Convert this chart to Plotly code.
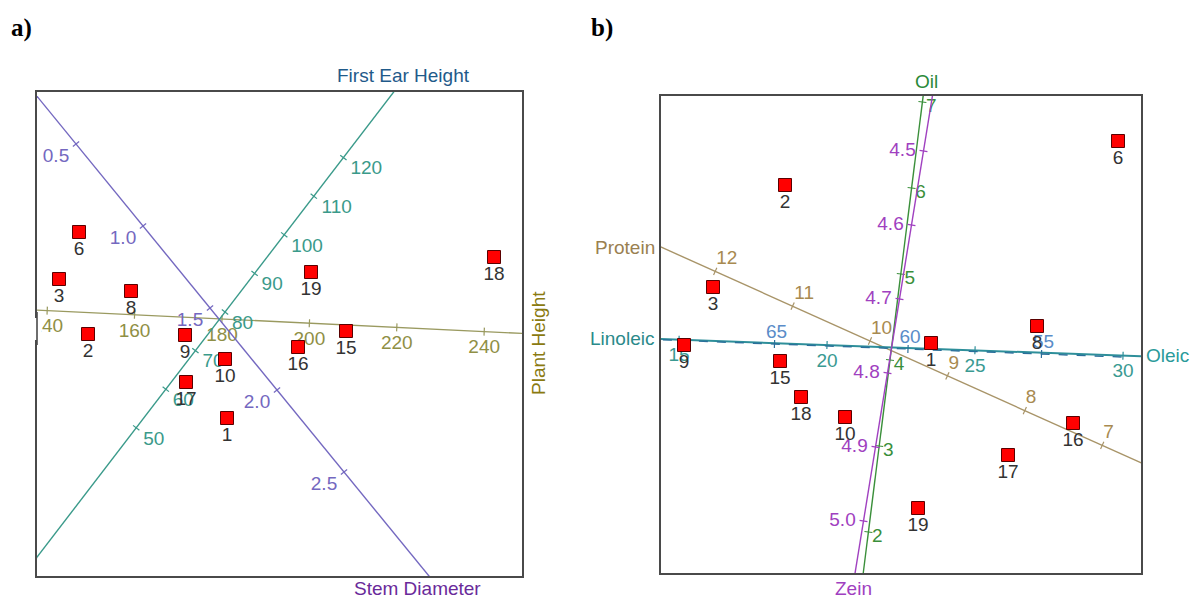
import numpy as np
import plotly.graph_objects as go

W, H = 1194, 599
FONT = "Arial, Liberation Sans, sans-serif"

# ---------------- panel a: agronomic traits ----------------
a_ids = ["1", "2", "3", "6", "8", "9", "10", "15", "16", "17", "18", "19"]
a_x = [1.90, 0.51, 0.22, 0.42, 0.94, 1.48, 1.88, 3.09, 2.61, 1.49, 4.57, 2.74]
a_y = [1.58, 2.42, 2.97, 3.44, 2.85, 2.41, 2.17, 2.45, 2.29, 1.94, 3.19, 3.04]

plant_ticks = [140, 160, 180, 200, 220, 240]
stem_ticks = [0.5, 1.0, 1.5, 2.0, 2.5]
stem_labels = ["0.5", "1.0", "1.5", "2.0", "2.5"]
ear_ticks = [50, 60, 70, 80, 90, 100, 110, 120]

# ---------------- panel b: grain quality ----------------
b_ids = ["1", "2", "3", "6", "8", "9", "10", "15", "16", "17", "18", "19"]
b_x = [2.70, 1.24, 0.52, 4.57, 3.76, 0.23, 1.84, 1.19, 4.12, 3.47, 1.40, 2.57]
b_y = [2.30, 3.88, 2.86, 4.32, 2.47, 2.28, 1.56, 2.12, 1.50, 1.18, 1.76, 0.65]

oleic_ticks = [15, 20, 25, 30]
linoleic_ticks = [55, 60, 65, 70]
protein_ticks = [7, 8, 9, 10, 11, 12]
oil_ticks = [2, 3, 4, 5, 6, 7]
zein_ticks = [4.5, 4.6, 4.7, 4.8, 4.9, 5.0]
zein_labels = ["4.5", "4.6", "4.7", "4.8", "4.9", "5.0"]

# biplot axis calibrations: value at anchor, anchor point, shift per unit of the variable
CAL = {
    "plant":    dict(v0=180, p0=(1.85, 2.57), step=(0.0437, -0.0021), span=(125, 260)),
    "stem":     dict(v0=1.5, p0=(1.73, 2.68), step=(1.34, -1.64), span=(0.0, 3.4)),
    "ear":      dict(v0=80, p0=(1.88, 2.64), step=(0.0296, 0.0386), span=(10, 145)),
    "oleic":    dict(v0=20, p0=(1.66, 2.28), step=(0.296, -0.0107), span=(13, 32)),
    "linoleic": dict(v0=60, p0=(2.47, 2.24), step=(-0.267, 0.0100), span=(52, 74)),
    "protein":  dict(v0=10, p0=(2.09, 2.32), step=(-0.774, 0.348), span=(6, 13.5)),
    "oil":      dict(v0=4, p0=(2.29, 2.13), step=(0.108, 0.86), span=(1.2, 7.5)),
    "zein":     dict(v0=4.7, p0=(2.385, 2.74), step=(-1.20, -7.40), span=(4.35, 5.15)),
}

TICK_SIZE = 19


def place(key, values):
    c = CAL[key]
    v = np.asarray(values, float) - c["v0"]
    return c["p0"][0] + v * c["step"][0], c["p0"][1] + v * c["step"][1]


def text_width(s, size=TICK_SIZE):
    return sum(0.28 if ch == "." else 0.556 for ch in s) * size / 100.0


fig = go.Figure()


def add_axis(key, ticks, labels, color, xa, ya, offset, dash=None, anchor_left=False,
             lcolor=None, width=1.4):
    c = CAL[key]
    lx, ly = place(key, c["span"])
    fig.add_trace(go.Scatter(x=lx, y=ly, mode="lines", xaxis=xa, yaxis=ya,
                             line=dict(color=lcolor or color, width=width, dash=dash),
                             hoverinfo="skip", showlegend=False))
    tx, ty = place(key, ticks)
    d = np.array(c["step"], float)
    d = d / np.hypot(*d)
    nx, ny = -d[1] * 0.04, d[0] * 0.04
    sx, sy = [], []
    for x0, y0 in zip(tx, ty):
        sx += [x0 - nx, x0 + nx, None]
        sy += [y0 - ny, y0 + ny, None]
    fig.add_trace(go.Scatter(x=sx, y=sy, mode="lines", xaxis=xa, yaxis=ya,
                             line=dict(color=lcolor or color, width=1.2),
                             hoverinfo="skip", showlegend=False))
    ox, oy = offset
    cx = [x0 + ox + (text_width(s) / 2 if anchor_left else 0) for x0, s in zip(tx, labels)]
    cy = [y0 + oy for y0 in ty]
    fig.add_trace(go.Scatter(x=cx, y=cy, mode="text", text=labels, xaxis=xa, yaxis=ya,
                             textposition="middle center", cliponaxis=True,
                             textfont=dict(family=FONT, size=TICK_SIZE, color=color),
                             hoverinfo="skip", showlegend=False))


# panel a axes
add_axis("plant", plant_ticks, [str(t) for t in plant_ticks], "#8f8f45", "x", "y", (0.0, -0.17),
         lcolor="#9a9a60")
add_axis("stem", stem_ticks, stem_labels, "#7468c0", "x", "y", (-0.20, -0.13))
add_axis("ear", ear_ticks, [str(t) for t in ear_ticks], "#3a9a8a", "x", "y", (0.07, -0.12),
         anchor_left=True)

# panel b axes
add_axis("protein", protein_ticks, [str(t) for t in protein_ticks], "#a88a50", "x2", "y2",
         (0.01, 0.12), anchor_left=True, lcolor="#a89468")
add_axis("oleic", oleic_ticks, [str(t) for t in oleic_ticks], "#3a9a92", "x2", "y2", (0.0, -0.17),
         lcolor="#2e8f9a", width=2)
add_axis("linoleic", linoleic_ticks, [str(t) for t in linoleic_ticks], "#5a8cc8", "x2", "y2",
         (0.02, 0.11), dash="dash", lcolor="#2a6f9a")
add_axis("oil", oil_ticks, [str(t) for t in oil_ticks], "#3a8f3a", "x2", "y2", (0.09, -0.05))
add_axis("zein", zein_ticks, zein_labels, "#a040c0", "x2", "y2", (-0.21, 0.0))

# genotype points
for xs, ys, ids, xa, ya in [(a_x, a_y, a_ids, "x", "y"), (b_x, b_y, b_ids, "x2", "y2")]:
    fig.add_trace(go.Scatter(
        x=xs, y=ys, text=ids, mode="markers+text", xaxis=xa, yaxis=ya,
        textposition="bottom center", cliponaxis=False,
        marker=dict(symbol="square", size=13, color="#ff0000",
                    line=dict(color="#5a0000", width=1)),
        textfont=dict(family=FONT, size=19, color="#333333"),
        hoverinfo="skip", showlegend=False))


def px_x(p):
    return p / W


def px_y(p):
    return 1 - p / H


frame = dict(showline=True, linecolor="#4a4a4a", linewidth=1.6, mirror=True,
             showgrid=False, zeroline=False, showticklabels=False, ticks="")

fig.update_layout(
    width=W, height=H, margin=dict(l=0, r=0, t=0, b=0),
    paper_bgcolor="white", plot_bgcolor="white",
    xaxis=dict(domain=[px_x(37), px_x(522)], range=[0, 4.85], **frame),
    yaxis=dict(domain=[px_y(576), px_y(92)], range=[0, 4.84], **frame),
    xaxis2=dict(domain=[px_x(661), px_x(1141)], range=[0, 4.80], anchor="y2", **frame),
    yaxis2=dict(domain=[px_y(573), px_y(96)], range=[0, 4.77], anchor="x2", **frame),
)

# tick labels of panel a stop at the plot frame: mask the overhang, then redraw the frame edge
fig.add_shape(type="rect", xref="paper", yref="paper", layer="above",
              x0=0, x1=px_x(41), y0=px_y(340), y1=px_y(318),
              fillcolor="white", line=dict(width=0))
fig.add_shape(type="line", xref="paper", yref="paper", layer="above",
              x0=px_x(37), x1=px_x(37), y0=px_y(345), y1=px_y(312),
              line=dict(color="#4a4a4a", width=1.6))

titles = [
    ("First Ear Height", 403, 76, "#1f5a8a", 0),
    ("Stem Diameter", 417, 588, "#6a2a9a", 0),
    ("Plant Height", 538, 343, "#8a7a10", -90),
    ("Oil", 926, 81, "#2a8a3a", 0),
    ("Zein", 853, 588, "#a040c0", 0),
    ("Protein", 625, 247, "#9a8050", 0),
    ("Linoleic", 622, 338, "#2a8a8a", 0),
    ("Oleic", 1167, 355, "#2a9a9a", 0),
]
for txt, x, y, col, ang in titles:
    fig.add_annotation(text=txt, x=px_x(x), y=px_y(y), xref="paper", yref="paper",
                       showarrow=False, xanchor="center", yanchor="middle", textangle=ang,
                       font=dict(family=FONT, size=19, color=col))

for txt, x in [("a)", 21), ("b)", 602)]:
    fig.add_annotation(text="<b>%s</b>" % txt, x=px_x(x), y=px_y(28), xref="paper", yref="paper",
                       showarrow=False, xanchor="center", yanchor="middle",
                       font=dict(family="Liberation Serif, Times New Roman, serif", size=25,
                                 color="black"))

fig.write_html("out.html")
